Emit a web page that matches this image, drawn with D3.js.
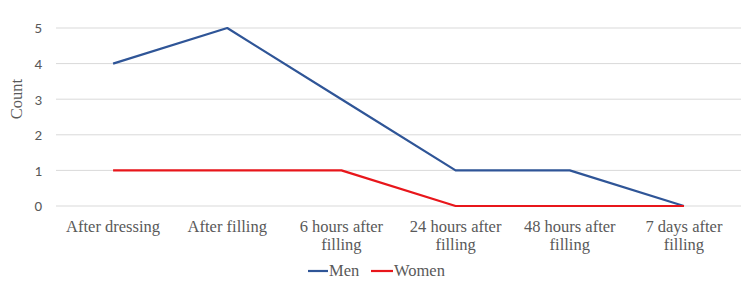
<!DOCTYPE html>
<html>
<head>
<meta charset="utf-8">
<script src="https://cdn.jsdelivr.net/npm/d3@7"></script>
<style>
  html, body { margin: 0; padding: 0; background: #fff; }
</style>
</head>
<body>
<div id="container"></div>
<script>
const width = 750, height = 288;
const margin = { top: 28, right: 9, bottom: 82, left: 56 };
const iw = width - margin.left - margin.right;
const ih = height - margin.top - margin.bottom;

// --- Data ---
const categories = [
  "After dressing", "After filling", "6 hours after filling",
  "24 hours after filling", "48 hours after filling", "7 days after filling"
];
const menValues = [4, 5, 3, 1, 1, 0];
const womenValues = [1, 1, 1, 0, 0, 0];
const yTicks = [0, 1, 2, 3, 4, 5];
const seriesNames = ["Men", "Women"];
const seriesColors = ["#2F5597", "#E8161B"];

const serif = "'Liberation Serif', 'Times New Roman', serif";

const svg = d3.select("#container").append("svg")
  .attr("width", width).attr("height", height);

const g = svg.append("g")
  .attr("transform", `translate(${margin.left},${margin.top})`);

const x = d3.scaleBand().domain(categories).range([0, iw]);
const y = d3.scaleLinear().domain([0, 5]).range([ih, 0]);

// gridlines
g.selectAll(".grid").data(yTicks).join("line")
  .attr("x1", 0).attr("x2", iw)
  .attr("y1", d => y(d)).attr("y2", d => y(d))
  .attr("stroke", "#d9d9d9").attr("stroke-width", 1);

// y tick labels
const yAxis = g.append("g")
  .call(d3.axisLeft(y).tickValues(yTicks).tickFormat(d3.format("d")).tickSize(0).tickPadding(14));
yAxis.select(".domain").remove();
yAxis.selectAll("text")
  .attr("fill", "#595959")
  .style("font-family", "Carlito, 'Open Sans', 'Noto Sans', sans-serif")
  .style("font-size", "15px");

// x tick labels (wrapped in two lines where needed)
const wrap = s => {
  const m = s.match(/^(.*after) (filling)$/);
  if (m && !s.startsWith("After")) return [m[1], m[2]];
  return [s];
};
const xl = g.append("g").attr("transform", `translate(0,${ih})`);
categories.forEach(c => {
  const lines = wrap(c);
  const t = xl.append("text")
    .attr("x", x(c) + x.bandwidth() / 2)
    .attr("y", 26)
    .attr("text-anchor", "middle")
    .attr("fill", "#595959")
    .style("font-family", serif)
    .style("font-size", "16.5px");
  lines.forEach((l, i) => {
    t.append("tspan").attr("x", x(c) + x.bandwidth() / 2)
      .attr("dy", i === 0 ? 0 : 18).text(l);
  });
});

// lines
const line = d3.line()
  .x((d, i) => x(categories[i]) + x.bandwidth() / 2)
  .y(d => y(d));

[menValues, womenValues].forEach((vals, k) => {
  g.append("path").datum(vals)
    .attr("fill", "none")
    .attr("stroke", seriesColors[k])
    .attr("stroke-width", 2.2)
    .attr("stroke-linejoin", "round")
    .attr("d", line);
});

// y axis title
svg.append("text")
  .attr("transform", `translate(22, 99) rotate(-90)`)
  .attr("text-anchor", "middle")
  .attr("fill", "#595959")
  .style("font-family", serif)
  .style("font-size", "16.5px")
  .text("Count");

// legend
const legend = svg.append("g").attr("transform", "translate(0,271)");
const legendItems = [
  { x: 308, w: 20 },
  { x: 371, w: 22 }
];
seriesNames.forEach((n, k) => {
  const it = legendItems[k];
  legend.append("line")
    .attr("x1", it.x).attr("x2", it.x + it.w)
    .attr("y1", 0).attr("y2", 0)
    .attr("stroke", seriesColors[k]).attr("stroke-width", 2.2);
  legend.append("text")
    .attr("x", it.x + it.w + 1).attr("y", 5)
    .attr("fill", "#595959")
    .style("font-family", serif)
    .style("font-size", "16.5px")
    .text(n);
});
</script>
</body>
</html>
